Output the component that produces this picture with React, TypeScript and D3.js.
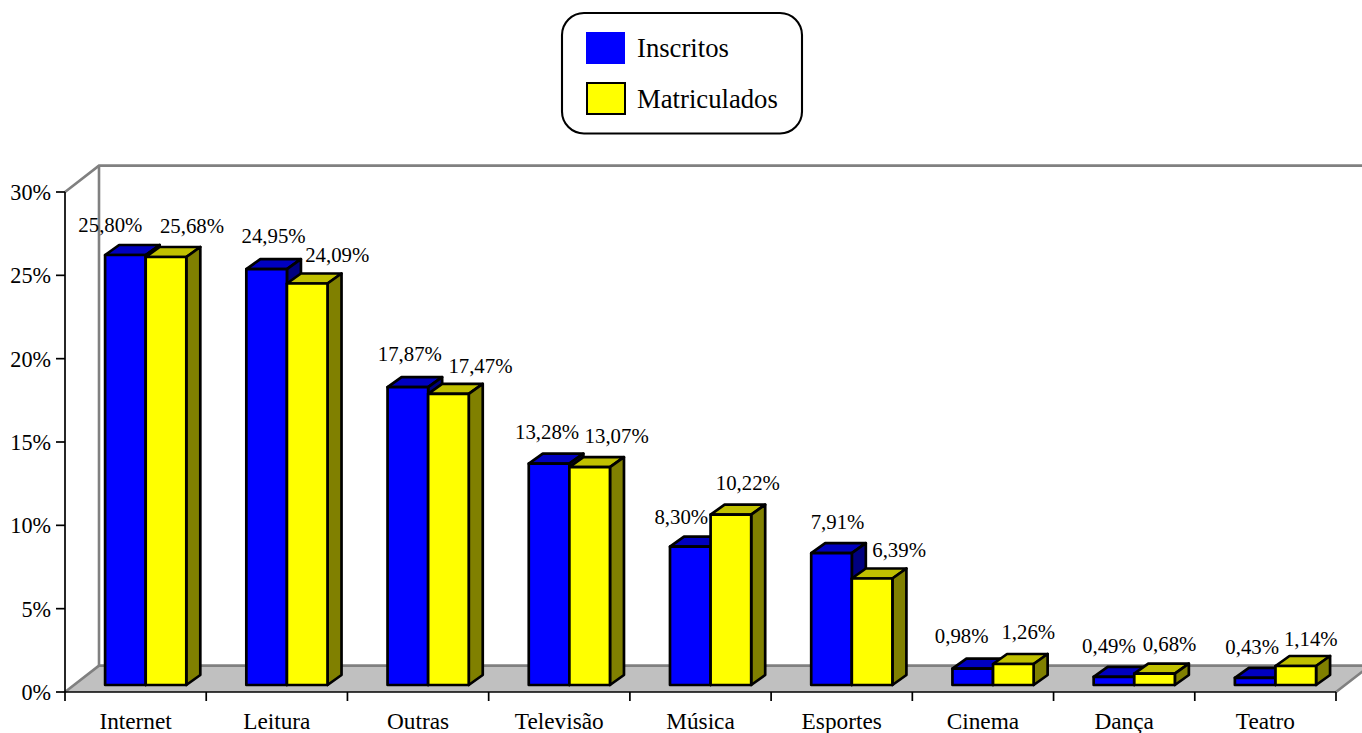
import React from "react";
import * as d3 from "d3";

const categories = ["Internet", "Leitura", "Outras", "Televisão", "Música", "Esportes", "Cinema", "Dança", "Teatro"];
const inscritos = [25.8, 24.95, 17.87, 13.28, 8.3, 7.91, 0.98, 0.49, 0.43];
const matriculados = [25.68, 24.09, 17.47, 13.07, 10.22, 6.39, 1.26, 0.68, 1.14];
const yTicks = [0, 5, 10, 15, 20, 25, 30];
// label nudges relative to the bar's top centre
const inscritosNudgeX = [-15, 7, 2, -2, -9, 6, -11, -5, -3];
const inscritosNudgeY = [-23, -26, -26, -25, -23, -24, -26, -24, -24];
const matriculadosNudgeX = [26, 30, 32, 27, 17, 27, 15, 15, 15];
const matriculadosNudgeY = [-24, -22, -21, -24, -25, -22, -25, -23, -20];

const FONT = "'Liberation Serif', 'Times New Roman', serif";
const W = 1362, H = 733;
const DX = 34, DY = -26.4; // wall depth
const BDX = 14, BDY = -10; // bar depth
const x0 = 65, x1 = 1336, yBase = 692, yTop = 192, barBase = 685;
const pct = (v: number) => String(v.toFixed(2)).replace(".", ",") + "%";

const yWall = d3.scaleLinear().domain([0, 30]).range([yBase, yTop]);
const yBar = d3.scaleLinear().domain([0, 30]).range([barBase, barBase - (yBase - yTop)]);
const xBand = d3.scaleBand<string>().domain(categories).range([x0, x1]);
const BAR_W = 40.6, BAR_OFF = 40.1;

function Bar3D({ x, v, front, top, side }: { x: number; v: number; front: string; top: string; side: string }) {
  const y = yBar(v);
  const w = BAR_W;
  return (
    <g stroke="#000" strokeWidth={2.7} strokeLinejoin="round">
      <polygon fill={top} points={`${x},${y} ${x + BDX},${y + BDY} ${x + w + BDX},${y + BDY} ${x + w},${y}`} />
      <polygon fill={side} points={`${x + w},${y} ${x + w + BDX},${y + BDY} ${x + w + BDX},${barBase + BDY} ${x + w},${barBase}`} />
      <rect x={x} y={y} width={w} height={barBase - y} fill={front} />
    </g>
  );
}

export default function App() {
  return (
    <svg width={W} height={H} viewBox={`0 0 ${W} ${H}`} style={{ position: "absolute", left: 0, top: 0, background: "#fff" }}>
      {/* back wall + floor */}
      <polygon fill="#c0c0c0" points={`${x0},${yBase} ${x0 + DX},${yBase + DY} ${x1 + DX},${yBase + DY} ${x1},${yBase}`} />
      <g fill="none" stroke="#808080" strokeWidth={2.6}>
        <polyline points={`${x0},${yTop} ${x0 + DX},${yTop + DY} ${W + 10},${yTop + DY}`} />
        <line x1={x0 + DX} y1={yTop + DY} x2={x0 + DX} y2={yBase + DY} />
        <polyline points={`${x0},${yBase} ${x0 + DX},${yBase + DY} ${x1 + DX},${yBase + DY} ${x1},${yBase}`} />
      </g>
      {/* axes */}
      <g stroke="#000" strokeWidth={1.7} fill="none">
        <line x1={x0} y1={yTop} x2={x0} y2={yBase} />
        <line x1={x0} y1={yBase} x2={x1} y2={yBase} />
      </g>
      {yTicks.map((t) => (
        <g key={t}>
          <line x1={x0 - 9} x2={x0} y1={yWall(t)} y2={yWall(t)} stroke="#000" strokeWidth={1.7} />
          <text x={x0 - 14} y={yWall(t) + 8} textAnchor="end" fontFamily={FONT} fontSize={22.2} fill="#000">{t}%</text>
        </g>
      ))}
      {categories.map((c, i) => {
        const s = xBand(c)!;
        return (
          <g key={c}>
            <line x1={s} x2={s} y1={yBase} y2={yBase + 9} stroke="#000" strokeWidth={1.7} />
            {i === categories.length - 1 && (
              <line x1={s + xBand.bandwidth()} x2={s + xBand.bandwidth()} y1={yBase} y2={yBase + 9} stroke="#000" strokeWidth={1.7} />
            )}
            <text x={s + xBand.bandwidth() / 2} y={729} textAnchor="middle" fontFamily={FONT} fontSize={23.3} fill="#000">{c}</text>
          </g>
        );
      })}
      {/* bars */}
      {categories.map((c, i) => {
        const s = xBand(c)! + BAR_OFF;
        return (
          <g key={c}>
            <Bar3D x={s} v={inscritos[i]} front="#0000ff" top="#0000c0" side="#000080" />
            <Bar3D x={s + BAR_W} v={matriculados[i]} front="#ffff00" top="#c0c000" side="#808000" />
          </g>
        );
      })}
      {/* labels */}
      {categories.map((c, i) => {
        const s = xBand(c)! + BAR_OFF;
        return (
          <g key={c} fontFamily={FONT} fontSize={20.8} fill="#000" textAnchor="middle">
            <text x={s + BAR_W / 2 + inscritosNudgeX[i]} y={yBar(inscritos[i]) + inscritosNudgeY[i]}>{pct(inscritos[i])}</text>
            <text x={s + BAR_W * 1.5 + matriculadosNudgeX[i]} y={yBar(matriculados[i]) + matriculadosNudgeY[i]}>{pct(matriculados[i])}</text>
          </g>
        );
      })}
      {/* legend */}
      <rect x={562} y={13} width={240} height={120.5} rx={22} ry={22} fill="#fff" stroke="#000" strokeWidth={2.1} />
      <rect x={586} y={32} width={39} height={32} fill="#0000ff" />
      <rect x={587} y={83} width={38} height={31} fill="#ffff00" stroke="#000" strokeWidth={2} />
      <text x={637} y={56.5} fontFamily={FONT} fontSize={26.7} fill="#000">Inscritos</text>
      <text x={637} y={107.5} fontFamily={FONT} fontSize={26.7} fill="#000">Matriculados</text>
    </svg>
  );
}
